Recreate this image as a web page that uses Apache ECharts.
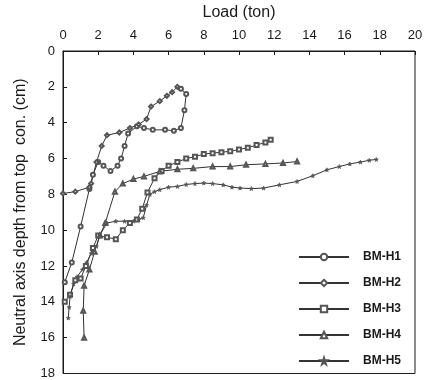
<!DOCTYPE html>
<html>
<head>
<meta charset="utf-8">
<script src="https://cdn.jsdelivr.net/npm/echarts@6/dist/echarts.min.js"></script>
<style>
  html, body { margin: 0; padding: 0; background: #fff; }
  #chart { width: 429px; height: 380px; }
</style>
</head>
<body>
<div id="chart"></div>
<script>
// Load (ton) vs. neutral axis depth (cm) for five beams
const seriesNames = ['BM-H1', 'BM-H2', 'BM-H3', 'BM-H4', 'BM-H5'];
const xTicks = [0, 2, 4, 6, 8, 10, 12, 14, 16, 18, 20];
const yTicks = [0, 2, 4, 6, 8, 10, 12, 14, 16, 18];

const bmH1 = [[0.1,12.9],[0.5,11.8],[1.0,9.8],[1.5,7.7],[1.7,6.9],[2.0,6.2],[2.3,6.4],[2.7,6.7],[3.1,6.4],[3.3,6.0],[3.5,5.3],[3.7,4.6],[4.2,4.2],[4.6,4.3],[5.1,4.4],[5.8,4.4],[6.3,4.45],[6.7,4.3],[6.9,3.3],[7.0,2.4],[6.7,2.1]];
const bmH2 = [[0.0,7.95],[0.7,7.85],[1.5,7.6],[1.6,7.4],[1.9,6.2],[2.2,5.3],[2.5,4.7],[3.2,4.55],[3.8,4.3],[4.3,4.1],[4.75,3.8],[5.0,3.1],[5.5,2.8],[5.9,2.5],[6.2,2.3],[6.5,2.0]];
const bmH3 = [[0.1,14.0],[0.4,13.6],[0.7,12.8],[1.0,12.7],[1.3,12.0],[1.7,11.0],[2.0,10.3],[2.5,10.4],[3.0,10.5],[3.4,10.0],[3.8,9.6],[4.2,9.4],[4.5,8.8],[4.8,7.9],[5.2,7.1],[5.6,6.7],[6.0,6.4],[6.5,6.2],[7.0,6.0],[7.5,5.9],[8.0,5.75],[8.5,5.7],[9.0,5.65],[9.5,5.6],[10.0,5.5],[10.5,5.4],[11.0,5.25],[11.5,5.1],[11.8,4.95]];
const bmH4 = [[1.2,16.0],[1.15,14.5],[1.2,13.1],[1.5,12.2],[1.8,11.2],[2.1,10.3],[2.4,9.6],[2.95,7.85],[3.4,7.4],[4.0,7.15],[4.6,7.0],[5.5,6.72],[6.5,6.6],[7.4,6.55],[8.5,6.45],[9.5,6.45],[10.4,6.35],[11.5,6.3],[12.5,6.25],[13.3,6.17]];
const bmH5 = [[0.3,14.9],[0.35,14.3],[0.4,13.7],[0.6,13.0],[0.8,12.6],[1.1,12.2],[1.35,11.8],[1.6,11.3],[1.9,10.9],[2.1,10.25],[2.5,9.6],[3.0,9.5],[3.5,9.5],[4.0,9.5],[4.3,9.4],[4.56,9.3],[4.75,8.6],[4.94,8.0],[5.2,7.85],[5.5,7.74],[6.0,7.6],[6.5,7.56],[7.0,7.45],[7.5,7.4],[8.0,7.37],[8.5,7.4],[9.1,7.47],[9.6,7.6],[10.06,7.65],[10.7,7.68],[11.4,7.65],[12.3,7.47],[13.3,7.28],[14.2,6.96],[15.0,6.63],[15.7,6.45],[16.3,6.3],[16.9,6.2],[17.4,6.1],[17.8,6.05]];

const seriesData = [bmH1, bmH2, bmH3, bmH4, bmH5];
const starPath = 'path://M50,0 L61,35 L98,35 L68,57 L79,91 L50,70 L21,91 L32,57 L2,35 L39,35 Z';
const symbols = ['emptyCircle', 'emptyDiamond', 'emptyRect', 'emptyTriangle', starPath];

const ink = '#1a1a1a';
const font = 'Liberation Sans';
const chart = echarts.init(document.getElementById('chart'));

chart.setOption({
  animation: false,
  backgroundColor: '#fff',
  grid: { left: 63, right: 14, top: 51, bottom: 6, show: true, borderColor: ink, borderWidth: 1 },
  legend: {
    orient: 'vertical',
    left: 293, top: 246,
    itemWidth: 50, itemHeight: 8, itemGap: 14,
    data: seriesNames,
    textStyle: { color: ink, fontFamily: font, fontSize: 12, fontWeight: 'bold', padding: [0, 0, 0, 9] }
  },
  xAxis: {
    type: 'value', position: 'top', min: 0, max: 20, interval: 2,
    name: 'Load (ton)', nameLocation: 'middle', nameGap: 30,
    nameTextStyle: { color: ink, fontFamily: font, fontSize: 16 },
    axisLine: { lineStyle: { color: ink } },
    axisTick: { inside: true, length: 4, lineStyle: { color: ink } },
    axisLabel: { color: ink, fontFamily: font, fontSize: 13, margin: 9,
      formatter: v => xTicks.includes(v) ? String(v) : '' },
    splitLine: { show: false }
  },
  yAxis: {
    type: 'value', inverse: true, min: 0, max: 18, interval: 2,
    name: 'Neutral axis depth from top  con. (cm)', nameLocation: 'middle', nameGap: 34,
    nameTextStyle: { color: ink, fontFamily: font, fontSize: 16 },
    axisLine: { lineStyle: { color: ink } },
    axisTick: { inside: true, length: 4, lineStyle: { color: ink } },
    axisLabel: { color: ink, fontFamily: font, fontSize: 13, margin: 8,
      formatter: v => yTicks.includes(v) ? String(v) : '' },
    splitLine: { show: false }
  },
  series: seriesNames.map((name, i) => ({
    name: name,
    type: 'line',
    data: seriesData[i],
    symbol: symbols[i],
    symbolSize: 4,
    lineStyle: { color: '#333', width: 1 },
    itemStyle: { color: '#555', borderColor: '#555', borderWidth: 0.7 }
  }))
});
</script>
</body>
</html>
